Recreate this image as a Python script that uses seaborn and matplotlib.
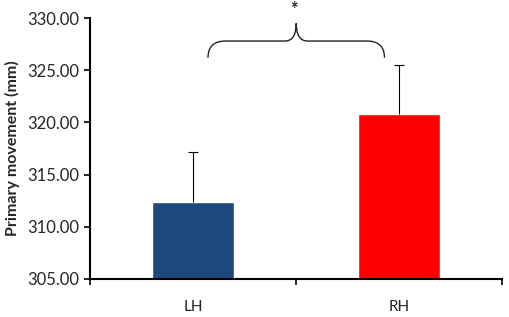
import matplotlib
matplotlib.use("Agg")
import matplotlib.pyplot as plt
from matplotlib.path import Path
from matplotlib.patches import PathPatch
import pandas as pd
import seaborn as sns

# Data
groups = ["LH", "RH"]
means = [312.38, 320.80]
errors = [4.75, 4.75]
colors = ["#1F497D", "#FF0000"]
y_ticks = [305, 310, 315, 320, 325, 330]

sns.set_theme(style="white")
plt.rcParams["font.family"] = ["Lato", "DejaVu Sans"]

df = pd.DataFrame({"group": groups, "mean": means})

fig = plt.figure(figsize=(5.1, 3.17), dpi=100)
ax = fig.add_axes([0.1765, 0.12, 0.8075, 0.823])

sns.barplot(data=df, x="group", y="mean", hue="group", palette=colors,
            width=0.4, errorbar=None, legend=False, ax=ax, saturation=1)

# upper-only error bars (stem + top cap)
xs = list(range(len(groups)))
tops = [m + e for m, e in zip(means, errors)]
ax.vlines(xs, means, tops, color="black", linewidth=0.8)
ax.hlines(tops, [x - 0.025 for x in xs], [x + 0.025 for x in xs], color="black", linewidth=0.8)

ax.set_ylim(305, 330)
ax.set_xlim(-0.5, 1.5)
ax.set_yticks(y_ticks)
ax.set_yticklabels([f"{v:.2f}" for v in y_ticks], fontsize=12)
ax.set_xticks(xs)
ax.set_xticklabels(groups, fontsize=11)
ax.set_xticks([-0.5, 0.5, 1.5], minor=True)
ax.tick_params(axis="x", which="major", length=0, pad=15)
ax.tick_params(axis="x", which="minor", length=4, width=1.2, direction="out", color="black", bottom=True)
ax.tick_params(axis="y", length=4, width=1.2, direction="out", color="black", left=True, pad=4)
ax.set_xlabel("")
ax.set_ylabel("Primary movement (mm)", fontsize=11.5, fontweight="bold", labelpad=5)

for side in ["top", "right"]:
    ax.spines[side].set_visible(False)
for side in ["left", "bottom"]:
    ax.spines[side].set_color("black")
    ax.spines[side].set_linewidth(1.5)

# significance brace
x0, x1 = 0.073, 0.93
xm = (x0 + x1) / 2
yb, yh, yt = 326.2, 327.8, 329.5
rx, tx = 0.085, 0.055
verts = [
    (x0, yb), (x0, yh), (x0 + rx, yh),
    (xm - tx, yh),
    (xm, yh), (xm, yt),
    (xm, yh), (xm + tx, yh),
    (x1 - rx, yh),
    (x1, yh), (x1, yb),
]
codes = [Path.MOVETO, Path.CURVE3, Path.CURVE3,
         Path.LINETO,
         Path.CURVE3, Path.CURVE3,
         Path.CURVE3, Path.CURVE3,
         Path.LINETO,
         Path.CURVE3, Path.CURVE3]
ax.add_patch(PathPatch(Path(verts, codes), facecolor="none", edgecolor="#222222",
                       linewidth=1.0, clip_on=False))
ax.text(xm - 0.01, 330.0, "*", ha="center", va="bottom", fontsize=13,
        fontweight="bold", clip_on=False)

fig.savefig("out.png", dpi=100)
